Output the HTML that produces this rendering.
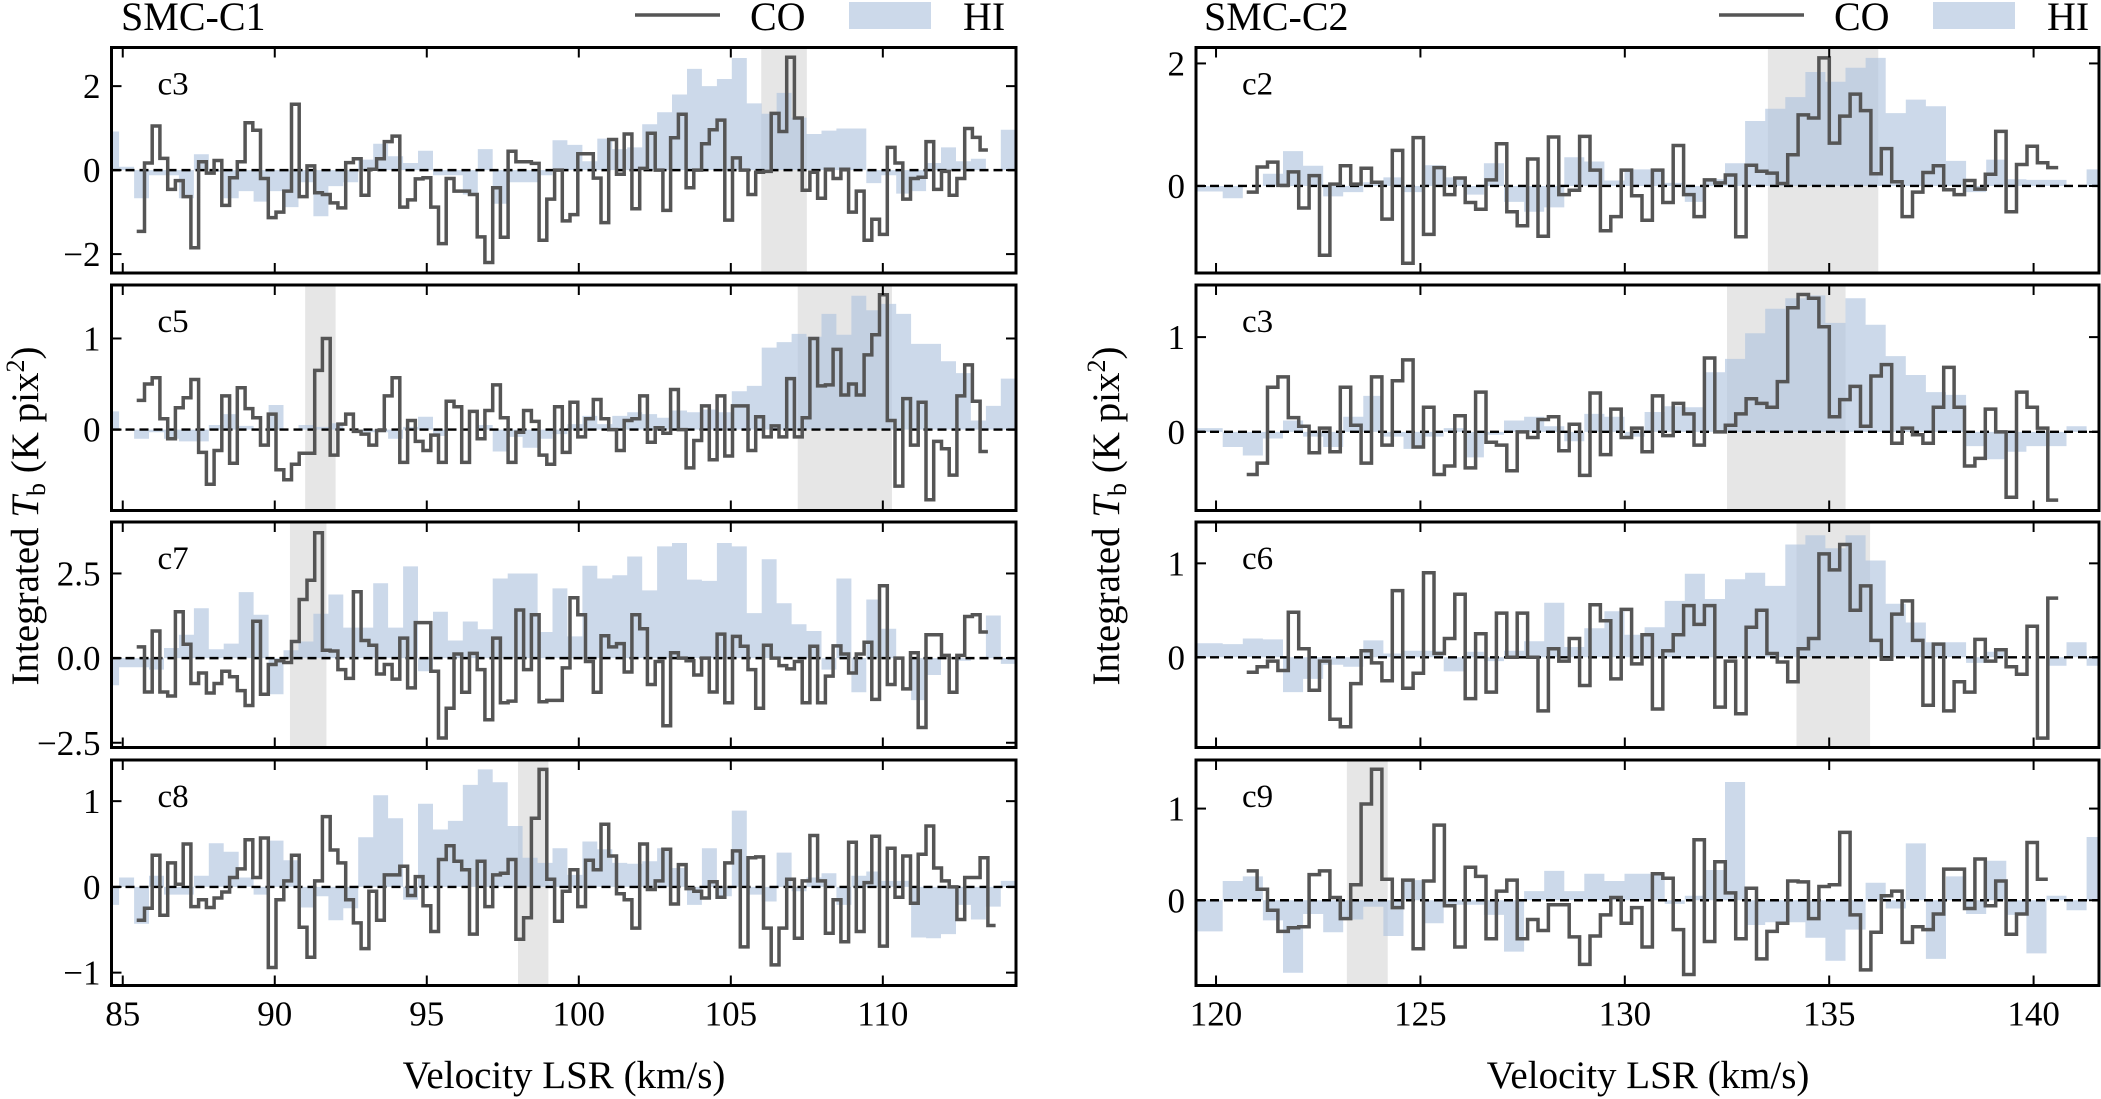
<!DOCTYPE html>
<html><head><meta charset="utf-8">
<style>
html,body{margin:0;padding:0;background:#fff;}
svg{display:block;font-family:"Liberation Serif","DejaVu Serif",serif;}
</style></head>
<body>
<svg id="fig" xmlns="http://www.w3.org/2000/svg" width="2101" height="1099" viewBox="0 0 2101 1099"></svg>
<script>
// ---------- DATA ----------
const coStartLeft = 85.46, coStartRight = 120.75, coDv = 0.2545;
const hiStartLeft = 84.39, hiStartRight = 119.18, hiDv = 0.4915;

const panelNamesLeft = ["c3","c5","c7","c8"];
const panelNamesRight = ["c2","c3","c6","c9"];

const coL_c3 = [-1.46,0.17,1.05,0.28,-0.46,-0.25,-0.63,-1.85,0.2,-0.07,0.23,-0.84,-0.18,0.2,1.13,0.95,-0.2,-1.13,-1.0,-0.5,1.57,-0.63,0.1,-0.54,-0.58,-0.78,-0.9,0.18,0.27,-0.6,0.02,0.27,0.68,0.81,-0.88,-0.71,-0.21,-0.18,-0.88,-1.75,-0.2,-0.5,-0.5,-0.58,-1.59,-2.2,-0.42,-1.6,0.45,0.2,0.2,0.16,-1.67,-0.69,0,-1.21,-1.06,0.39,0.39,-0.19,-1.25,0.73,-0.1,0.86,-0.92,0.04,0.88,0.0,-0.96,0.77,1.33,-0.42,0.0,0.63,0.96,1.19,-1.19,0.29,0.0,-0.58,-0.05,-0.03,1.35,0.92,2.69,1.24,-0.48,-0.05,-0.67,0.02,-0.2,0.02,-1.0,-0.5,-1.67,-1.17,-1.53,0.54,0.17,-0.69,-0.2,-0.17,0.68,-0.46,-0.03,-0.6,-0.2,0.99,0.78,0.48];
const hiL_c3 = [0.92,0.08,-0.67,-0.12,-0.12,-0.67,0.38,-0.04,-0.67,-0.5,-0.75,-0.5,-0.88,-0.29,-1.1,-0.38,-0.29,0.25,0.63,0.33,0.17,0.46,-0.12,-0.12,-0.58,0.5,-0.8,-0.29,-0.29,-0.12,0.71,0.6,0.21,0.75,0.5,0.54,1.09,1.38,1.8,2.41,2.0,2.17,2.67,1.59,1.34,1.84,1.25,0.86,0.94,0.99,0.99,-0.31,-0.12,-0.56,-0.5,0.17,0.54,0.21,0.27,0.0,0.96];

const coL_c5 = [0.32,0.5,0.57,0.12,-0.1,0.24,0.35,0.55,-0.25,-0.6,-0.23,0.37,-0.37,0.46,0.23,0.13,-0.17,0.17,-0.44,-0.55,-0.38,-0.26,-0.26,0.65,1.0,-0.28,0.06,0.17,-0.02,-0.05,-0.17,-0.01,0.37,0.57,-0.36,0.1,-0.13,-0.23,-0.06,-0.36,0.31,0.25,-0.36,0.2,-0.1,0.21,0.49,0.13,-0.36,-0.03,0.21,0.09,-0.28,-0.38,0.25,-0.25,0.3,-0.08,0.12,0.33,0.12,0,-0.23,0.1,0.12,0.37,-0.14,0.02,-0.04,0.44,0,-0.42,-0.12,0.26,-0.33,0.37,-0.29,0.26,0.26,-0.23,0.14,-0.08,0.04,-0.08,0.56,-0.08,0.13,1.0,0.48,0.49,0.88,0.38,0.5,0.38,0.82,1.04,1.48,0.1,-0.62,0.34,-0.17,0.3,-0.77,-0.13,-0.21,-0.5,0.37,0.71,0.31,-0.24];
const hiL_c5 = [0.2,0.0,-0.1,-0.03,-0.1,-0.13,-0.13,0.05,0.17,0.04,0.0,0.27,0.0,0.05,0.03,0.07,0.0,-0.03,-0.03,-0.1,0.03,0.14,-0.07,0.0,0.0,0.05,-0.24,-0.08,-0.2,-0.1,-0.05,0.06,0.15,0.06,0.15,0.19,0.17,0.13,0.21,0.19,0.22,0.19,0.42,0.48,0.9,0.96,1.05,1.02,1.27,1.04,1.47,1.31,1.38,1.27,0.94,0.94,0.75,0.62,0.1,0.26,0.56];

const coL_c7 = [0.33,-1.0,0.8,-1.0,-1.12,1.37,0.41,-0.75,-0.44,-1.03,-0.75,-0.39,-0.55,-0.96,-1.4,1.09,-1.07,-0.19,-0.08,-0.13,0.49,1.73,2.3,3.7,0.23,0.21,-0.34,-0.6,1.96,0.52,0.38,-0.47,-0.19,-0.62,0.59,-0.88,1.05,1.05,-0.39,-2.36,-1.48,0.12,-1.01,0.14,-0.34,-1.82,0.59,-1.32,-1.27,1.42,-0.34,1.28,-1.29,-1.25,-1.25,-0.29,1.78,1.28,-0.1,-1.01,0.66,0.33,0.43,-0.41,1.28,0.87,-0.78,-0.1,-2.0,0.16,0.0,-0.08,-0.5,0.0,-1.0,0.71,-1.32,0.64,0.35,-0.34,-1.48,0.38,0.0,-0.22,-0.32,-0.1,-1.32,0.35,-1.32,-0.53,0.36,0.12,-0.44,0.12,0.47,-1.22,2.14,-0.78,0.0,-0.91,0.16,-2.05,0.69,0.69,0.08,-1.01,0.08,1.23,1.28,0.77];
const hiL_c7 = [-0.8,-0.27,-0.27,-0.34,0.3,0.69,1.47,0.26,0.43,1.95,1.28,-1.07,0.23,0.49,1.31,1.88,0.9,0.9,2.21,0.9,2.71,-0.39,1.37,0.52,1.08,0.85,2.35,2.5,2.5,0.77,2.06,0.64,2.73,2.35,2.45,3.0,2.0,3.3,3.4,2.32,2.28,3.4,3.3,1.33,2.92,1.62,1.0,0.8,-0.34,2.35,-1.01,1.73,0.87,0.0,-1.24,-0.5,0.0,-0.08,0.0,1.26,-0.17];

const coL_c8 = [-0.39,-0.25,0.37,-0.33,0.28,0.03,0.5,-0.23,-0.15,-0.24,-0.13,-0.06,0.11,0.21,0.55,0.11,0.57,-0.94,-0.15,0.07,0.37,-0.47,-0.82,0.07,0.82,0.43,0.28,-0.15,-0.42,-0.72,-0.05,-0.39,0.14,0.14,0.24,-0.1,0.12,-0.22,-0.52,0.32,0.48,0.3,0.2,-0.55,0.3,-0.23,0.14,0.16,0.32,-0.61,-0.36,0.8,1.37,0.09,-0.4,-0.05,0.2,-0.23,0.31,0.2,0.73,0.36,-0.08,-0.15,-0.48,0.5,-0.03,0.07,0.44,-0.2,0.26,-0.02,-0.05,-0.13,0.06,-0.12,0.28,0.42,-0.7,0.34,0.35,-0.48,-0.91,-0.48,0.09,-0.6,0.07,0.6,0.07,-0.54,-0.15,-0.64,0.52,-0.52,0.05,0.59,-0.69,0.45,-0.12,0.36,-0.19,0.38,0.71,0.22,0.07,0,-0.38,0.11,0.11,0.34,-0.45];
const hiL_c8 = [-0.21,0.11,-0.43,0.13,-0.09,-0.09,0.13,0.51,0.41,0.11,-0.09,0.54,0.31,-0.24,-0.11,-0.39,-0.25,0.58,1.07,0.8,-0.15,0.97,0.67,0.77,1.19,1.37,1.22,0.71,0.34,0.28,0.45,0.14,0.53,0.44,0.28,0.27,0.3,0.45,0.22,-0.21,0.45,-0.11,0.89,-0.09,-0.17,0.4,-0.05,0.11,0.16,-0.21,0.13,0.18,0.07,0.07,-0.59,-0.6,-0.55,-0.21,-0.38,-0.23,0.07];

const coR_c2 = [-0.1,0.31,0.39,0.01,0.23,-0.36,0.17,-1.13,0.03,0.33,0.03,0.29,0.06,-0.54,0.58,-1.26,0.79,-0.79,0.3,-0.14,0.13,-0.27,-0.38,0.1,0.69,-0.42,-0.65,0.44,-0.82,0.8,-0.14,-0.07,0.81,0.26,-0.73,-0.5,0.26,-0.16,-0.56,0.26,-0.27,0.66,-0.14,-0.5,0.1,0.05,0.18,-0.83,0.34,0.24,0.21,0.04,0.51,1.16,1.11,2.09,0.7,1.14,1.5,1.23,0.2,0.61,0.07,-0.5,-0.1,0.22,0.33,-0.06,-0.14,0.09,-0.05,0.19,0.89,-0.42,0.35,0.65,0.38,0.3];
const hiR_c2 = [-0.09,-0.09,-0.2,0.0,0.2,0.57,0.33,-0.17,-0.1,0.06,0.14,-0.1,0.34,0.14,-0.14,0.37,-0.26,-0.42,-0.35,0.47,0.4,0.09,0.27,0.27,0.05,-0.26,0.11,0.37,1.06,1.26,1.45,1.86,1.7,1.93,2.09,1.19,1.41,1.3,0.41,-0.1,0.43,0.11,0.1,0.1,0.0,0.27];

const coR_c3 = [-0.45,-0.33,0.47,0.58,0.15,0.06,-0.22,0.04,-0.21,0.47,0.07,-0.33,0.58,-0.14,0.54,0.76,-0.16,0.26,-0.45,-0.36,0.17,-0.38,0.42,-0.11,-0.14,-0.41,0,-0.06,0.13,0.16,-0.2,0.08,-0.46,0.41,-0.24,0.24,-0.06,0.04,-0.21,0.38,-0.04,0.3,0.19,-0.14,0.78,0,0.07,0.19,0.35,0.3,0.26,0.53,1.31,1.45,1.41,1.11,0.16,0.34,0.48,0.06,0.59,0.71,-0.12,0.04,-0.03,-0.12,0.26,0.68,0.26,-0.36,-0.28,0.24,0,-0.69,0.42,0.26,0.04,-0.72];
const hiR_c3 = [0.04,0.04,-0.16,-0.25,-0.07,0.12,-0.05,-0.16,0.16,0.38,-0.05,-0.18,-0.05,0.04,-0.27,-0.03,0.12,0.16,0.06,-0.1,0.19,0.16,-0.05,0.21,0.27,0.26,0.63,0.77,1.04,1.3,1.41,1.44,1.15,1.41,1.13,0.8,0.6,0.42,0.39,-0.15,-0.29,-0.21,-0.15,-0.15,0.06,0.0];

const coR_c6 = [-0.16,-0.1,-0.04,-0.14,0.48,0.09,-0.35,-0.04,-0.66,-0.74,-0.28,0.07,-0.06,-0.25,0.71,-0.33,-0.17,0.9,0.04,0.2,0.67,-0.44,0.25,-0.37,0.47,0,0.47,0,-0.57,0.09,-0.04,0.2,-0.3,0.56,0.39,-0.23,0.51,-0.07,0.24,-0.55,0.07,0.24,0.55,0.35,0.55,-0.53,-0.04,-0.6,0.32,0.5,0.04,-0.05,-0.26,0.09,0.2,1.1,0.93,1.2,0.5,0.76,0.18,-0.02,0.46,0.6,0.18,-0.51,0.14,-0.57,-0.26,-0.37,0.19,-0.04,0.08,-0.1,-0.18,0.33,-0.86,0.63];
const hiR_c6 = [0.15,0.15,0.14,0.2,0.19,-0.37,-0.23,-0.08,-0.1,0.18,0.04,0.07,0.07,-0.15,0.06,-0.04,0.07,0.17,0.58,0.11,0.31,0.49,0.24,0.32,0.6,0.89,0.62,0.83,0.9,0.76,1.2,1.3,1.16,1.3,1.03,0.57,0.37,0.16,0.16,-0.06,0.06,0.0,0.0,-0.09,0.16,-0.09];

const coR_c9 = [0.32,0.12,-0.11,-0.34,-0.3,-0.29,0.28,0.32,0.03,-0.2,0.17,1.05,1.43,0.23,-0.08,0.22,-0.53,0.21,0.82,-0.06,-0.51,0.36,0.26,-0.42,0.1,0.22,-0.42,-0.21,-0.33,-0.05,-0.05,-0.4,-0.7,-0.39,-0.16,0.03,-0.25,-0.08,-0.51,0.29,0.24,-0.32,-0.81,0.66,-0.45,0.42,0.08,-0.42,0.13,-0.64,-0.34,-0.25,0.21,0.2,-0.2,0.15,0.17,0.74,-0.16,-0.76,-0.35,0.05,0.1,-0.46,-0.29,-0.32,-0.15,0.34,0.34,-0.09,0.45,-0.06,0.21,-0.37,-0.15,0.63,0.23];
const hiR_c9 = [-0.34,-0.34,0.21,0.26,-0.22,-0.79,-0.15,-0.35,-0.21,-0.07,-0.39,0.22,-0.25,-0.05,-0.05,-0.16,-0.56,0.1,0.32,0.1,0.29,0.21,0.29,0.29,-0.04,0.05,0.33,1.29,-0.27,-0.24,-0.24,-0.41,-0.66,-0.32,0.19,-0.09,0.62,-0.64,0.26,-0.15,0.43,-0.16,-0.58,0.05,-0.11,0.69];

const spanLo = [106.0, 91.0, 90.5, 98.0, 133.5, 132.5, 134.2, 123.2];
const spanHi = [107.5, 92.0, 91.7, 99.0, 136.2, 135.4, 136.0, 124.2];
const spanLo2 = [null, 107.2, null, null, null, null, null, null];
const spanHi2 = [null, 110.3, null, null, null, null, null, null];

const yTicksL = [[-2,0,2],[0,1],[-2.5,0,2.5],[-1,0,1]];
const yTickLabelsL = [["−2","0","2"],["0","1"],["−2.5","0.0","2.5"],["−1","0","1"]];
const yTicksR = [[0,2],[0,1],[0,1],[0,1]];
const yTickLabelsR = [["0","2"],["0","1"],["0","1"],["0","1"]];
const xTicksL = [85,90,95,100,105,110];
const xTicksR = [120,125,130,135,140];

// ---------- LAYOUT ----------
const NS = "http://www.w3.org/2000/svg";
const svg = document.getElementById("fig");
const tops = [47.5, 285, 522, 760], PH = 225.5;
const yLimL = [[-2.45,2.92],[-0.888,1.587],[-2.64,4.02],[-1.15,1.48]];
const yLimR = [[-1.42,2.26],[-0.83,1.55],[-0.96,1.44],[-0.93,1.53]];
const sideL = {x0:111.5, x1:1016, xmin:84.63, xmax:114.38, coStart:coStartLeft, hiStart:hiStartLeft, names:panelNamesLeft,
  co:[coL_c3,coL_c5,coL_c7,coL_c8], hi:[hiL_c3,hiL_c5,hiL_c7,hiL_c8], ylim:yLimL, yt:yTicksL, ytl:yTickLabelsL, xt:xTicksL, tag:"left"};
const sideR = {x0:1196, x1:2099, xmin:119.51, xmax:141.6, coStart:coStartRight, hiStart:hiStartRight, names:panelNamesRight,
  co:[coR_c2,coR_c3,coR_c6,coR_c9], hi:[hiR_c2,hiR_c3,hiR_c6,hiR_c9], ylim:yLimR, yt:yTicksR, ytl:yTickLabelsR, xt:xTicksR, tag:"right"};

function mk(tag, attrs, parent){
  const e = document.createElementNS(NS, tag);
  for (const k in attrs) e.setAttribute(k, attrs[k]);
  (parent||svg).appendChild(e);
  return e;
}

function drawSide(S, sideIdx){
  const xs = v => S.x0 + (v - S.xmin) / (S.xmax - S.xmin) * (S.x1 - S.x0);
  for (let p = 0; p < 4; p++){
    const top = tops[p], bot = top + PH;
    const [lo, hi] = S.ylim[p];
    const ys = v => bot - (v - lo) / (hi - lo) * PH;
    const g = mk("g", {});
    
    
    const cid = "clip" + sideIdx + p;
    const cp = mk("clipPath", {id: cid}, g);
    mk("rect", {x:S.x0, y:top, width:S.x1-S.x0, height:PH}, cp);
    const inner = mk("g", {"clip-path":"url(#"+cid+")"}, g);
    const si = sideIdx*4 + p;
    const spans = [[spanLo[si], spanHi[si]]];
    if (spanLo2[si] !== null) spans.push([spanLo2[si], spanHi2[si]]);
    spans.forEach(sp => {
      const r = mk("rect", {x:xs(sp[0]), y:top, width:xs(sp[1])-xs(sp[0]), height:PH, fill:"#808080", "fill-opacity":"0.2"}, inner);
      
      
    });
    const hv = S.hi[p];
    const y0 = ys(0);
    let d = "M" + xs(S.hiStart).toFixed(1) + "," + y0.toFixed(1);
    hv.forEach((v, i) => {
      const xa = xs(S.hiStart + i*hiDv), xb = xs(S.hiStart + (i+1)*hiDv);
      d += " L" + xa.toFixed(1) + "," + ys(v).toFixed(1) + " L" + xb.toFixed(1) + "," + ys(v).toFixed(1);
    });
    d += " L" + xs(S.hiStart + hv.length*hiDv).toFixed(1) + "," + y0.toFixed(1) + " Z";
    const hp = mk("path", {d:d, fill:"#b0c4de", "fill-opacity":"0.65", stroke:"none"}, inner);
    
    
    const zl = mk("line", {x1:S.x0, x2:S.x1, y1:y0, y2:y0, stroke:"#000", "stroke-width":"2.4", "stroke-dasharray":"9,5"}, inner);
    
    
    const cv = S.co[p];
    let c = "M" + xs(S.coStart).toFixed(1) + "," + ys(cv[0]).toFixed(1);
    cv.forEach((v, i) => {
      c += " L" + xs(S.coStart + i*coDv).toFixed(1) + "," + ys(v).toFixed(1) + " L" + xs(S.coStart + (i+1)*coDv).toFixed(1) + "," + ys(v).toFixed(1);
    });
    const cl = mk("path", {d:c, fill:"none", stroke:"#555555", "stroke-width":"3.5", "stroke-linejoin":"miter"}, inner);
    
    
    const fr = mk("rect", {x:S.x0, y:top, width:S.x1-S.x0, height:PH, fill:"none", stroke:"#000", "stroke-width":"3"}, g);
    
    
    S.xt.forEach(t => {
      const x = xs(t);
      mk("line", {x1:x, x2:x, y1:bot, y2:bot-10, stroke:"#000", "stroke-width":"2"}, g);
      mk("line", {x1:x, x2:x, y1:top, y2:top+10, stroke:"#000", "stroke-width":"2"}, g);
      if (p === 3){
        const tl = mk("text", {x:x, y:bot+40, "font-size":"35", "text-anchor":"middle", fill:"#000"}, g);
        tl.textContent = String(t);
        
        
      }
    });
    S.yt[p].forEach((t, k) => {
      const y = ys(t);
      mk("line", {x1:S.x0, x2:S.x0+10, y1:y, y2:y, stroke:"#000", "stroke-width":"2"}, g);
      mk("line", {x1:S.x1, x2:S.x1-10, y1:y, y2:y, stroke:"#000", "stroke-width":"2"}, g);
      const tl = mk("text", {x:S.x0-11, y:y+12, "font-size":"35", "text-anchor":"end", fill:"#000"}, g);
      tl.textContent = S.ytl[p][k];
      
      
    });
    const pl = mk("text", {x:S.x0 + 46, y:top+47, "font-size":"33", fill:"#000"}, g);
    pl.textContent = S.names[p];
    
    
  }
}
drawSide(sideL, 0);
drawSide(sideR, 1);

function legend(lx, tag){
  const g = mk("g", {});
  
  
  const l = mk("line", {x1:lx, x2:lx+85, y1:15, y2:15, stroke:"#555", "stroke-width":"3.5"}, g);
  
  
  const t1 = mk("text", {x:lx+115, y:30, "font-size":"40", fill:"#000"}, g);
  t1.textContent = "CO";
  
  
  const r = mk("rect", {x:lx+214, y:2, width:82, height:27, fill:"#b0c4de", "fill-opacity":"0.65"}, g);
  
  
  const t2 = mk("text", {x:lx+328, y:30, "font-size":"40", fill:"#000"}, g);
  t2.textContent = "HI";
  
  
}
legend(635, "left");
legend(1719, "right");

const t1 = mk("text", {x:121, y:30, "font-size":"40", fill:"#000"});
t1.textContent = "SMC-C1";


const t2 = mk("text", {x:1204, y:30, "font-size":"40", fill:"#000"});
t2.textContent = "SMC-C2";



[[564,"left"],[1648,"right"]].forEach(a => {
  const xl = mk("text", {x:a[0], y:1088, "font-size":"39", "text-anchor":"middle", fill:"#000"});
  xl.textContent = "Velocity LSR (km/s)";
  
  
});
[[38,"left"],[1119,"right"]].forEach(a => {
  const yl = mk("text", {x:0, y:0, "font-size":"39", "text-anchor":"middle", fill:"#000", transform:"translate("+a[0]+",516) rotate(-90)"});
  
  
  yl.innerHTML = 'Integrated <tspan font-style="italic">T</tspan><tspan font-size="26" dy="7">b</tspan><tspan dy="-7"> (K pix</tspan><tspan font-size="26" dy="-14">2</tspan><tspan dy="14">)</tspan>';
});
</script>
</body></html>
